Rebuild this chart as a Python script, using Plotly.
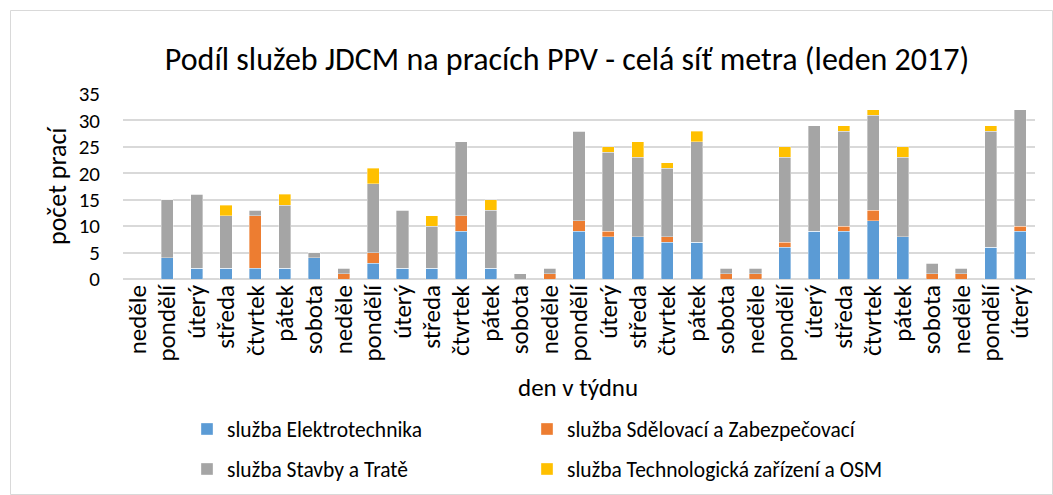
import plotly.graph_objects as go

# Days of January 2017 (1st is a Sunday)
days = ["neděle", "pondělí", "úterý", "středa", "čtvrtek", "pátek", "sobota"]
categories = [f"{i}" for i in range(1, 32)]
tick_labels = [days[i % 7] for i in range(31)]

elektro = [0, 4, 2, 2, 2, 2, 4, 0, 3, 2, 2, 9, 2, 0, 0, 9, 8, 8, 7, 7, 0, 0, 6, 9, 9, 11, 8, 0, 0, 6, 9]
sdelovaci = [0, 0, 0, 0, 10, 0, 0, 1, 2, 0, 0, 3, 0, 0, 1, 2, 1, 0, 1, 0, 1, 1, 1, 0, 1, 2, 0, 1, 1, 0, 1]
stavby = [0, 11, 14, 10, 1, 12, 1, 1, 13, 11, 8, 14, 11, 1, 1, 17, 15, 15, 13, 19, 1, 1, 16, 20, 18, 18, 15, 2, 1, 22, 22]
technolog = [0, 0, 0, 2, 0, 2, 0, 0, 3, 0, 2, 0, 2, 0, 0, 0, 1, 3, 1, 2, 0, 0, 2, 0, 1, 1, 2, 0, 0, 1, 0]

W, H = 1053, 495
L, R, T, B = 123, 18, 94, 216
pw, ph = W - L - R, H - T - B

def px_x(x):
    return (x - L) / pw

def px_y(y):
    return (H - B - y) / ph

# name, values, colour, legend id, legend box left / centre (pixels)
series = [
    ("služba Elektrotechnika", elektro, "#5b9bd5", "legend", 187, 429),
    ("služba Sdělovací a Zabezpečovací", sdelovaci, "#ed7d31", "legend2", 527, 429),
    ("služba Stavby a Tratě", stavby, "#a5a5a5", "legend3", 187, 469),
    ("služba Technologická zařízení a OSM", technolog, "#ffc000", "legend4", 527, 469),
]

FONT = "Carlito, Lato, sans-serif"
TXT = "#000000"

fig = go.Figure()
legends = {}
for name, vals, color, leg, lx, ly in series:
    fig.add_trace(go.Bar(
        x=categories, y=vals, name=name, legend=leg, showlegend=True,
        marker=dict(color=color, line=dict(color="rgba(255,255,255,0.6)", width=0.6)),
    ))
    legends[leg] = dict(
        orientation="h", xanchor="left", yanchor="middle",
        x=px_x(lx), y=px_y(ly), visible=True,
        font=dict(size=21.5, color=TXT, family=FONT), bgcolor="rgba(0,0,0,0)",
    )

fig.update_layout(
    width=W, height=H,
    margin=dict(l=L, r=R, t=T, b=B, autoexpand=False),
    showlegend=True,
    barmode="stack",
    bargap=0.59,
    plot_bgcolor="white", paper_bgcolor="white",
    font=dict(family=FONT, color=TXT),
    title=dict(
        text="Podíl služeb JDCM na pracích PPV - celá síť metra (leden 2017)",
        font=dict(size=32, color=TXT, family=FONT),
        x=px_x(567), xref="paper", xanchor="center",
        y=1 - 59 / H, yref="container", yanchor="middle",
    ),
    xaxis=dict(
        tickmode="array", tickvals=categories, ticktext=tick_labels,
        tickangle=-90, tickfont=dict(size=25, color=TXT),
        showgrid=False, showline=False, ticks="", zeroline=False,
    ),
    yaxis=dict(
        range=[0, 35], dtick=5, tickfont=dict(size=21, color=TXT),
        gridcolor="#d9d9d9", gridwidth=1.5, zeroline=True,
        zerolinecolor="#d9d9d9", zerolinewidth=1.5, ticks="",
        ticklabelstandoff=22,
    ),
    annotations=[
        dict(text="počet prací", xref="paper", yref="paper",
             x=px_x(57), y=px_y(186), textangle=-90, showarrow=False,
             font=dict(size=26, color=TXT), xanchor="center", yanchor="middle"),
        dict(text="den v týdnu", xref="paper", yref="paper",
             x=px_x(578), y=px_y(387), showarrow=False,
             font=dict(size=25, color=TXT), xanchor="center", yanchor="middle"),
    ],
    shapes=[
        dict(type="rect", xref="paper", yref="paper",
             x0=px_x(10.5), x1=px_x(1052.5), y0=px_y(494.5), y1=px_y(10.5),
             line=dict(color="#d9d9d9", width=1), fillcolor="rgba(0,0,0,0)",
             layer="below"),
    ],
    **legends,
)

fig.write_html("out.html")
